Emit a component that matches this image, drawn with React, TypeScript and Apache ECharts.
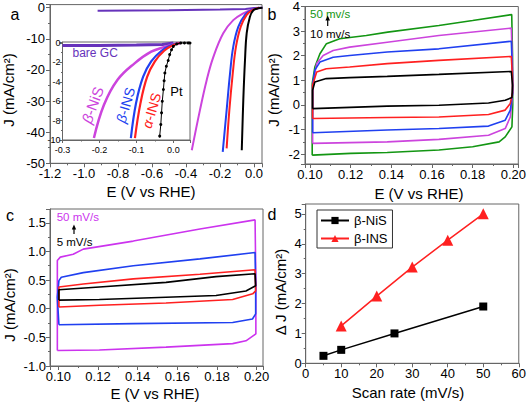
import { useEffect, useRef } from 'react';
import * as echarts from 'echarts';

const FONT = "'Liberation Sans', Arial, Helvetica, sans-serif";

// ---- Panel a (main LSV) : [E (V vs RHE), J (mA/cm2)]
const aBareGC: [number, number][] = [[-0.92, -1.0], [-0.5, -0.8], [-0.2, -0.6], [-0.05, -0.4], [0.0, -0.1], [0.05, 0.0]];
const aBetaNiS: [number, number][] = [[-0.366, -45.8], [-0.318, -32.9], [-0.278, -23.2], [-0.239, -15.8], [-0.181, -8.2], [-0.122, -4.0], [-0.063, -1.8], [-0.004, -0.5], [0.04, 0]];
const aBetaINS: [number, number][] = [[-0.184, -46.3], [-0.161, -32.9], [-0.141, -21.1], [-0.122, -12.5], [-0.092, -6.1], [-0.053, -2.3], [-0.014, -0.7], [0.03, 0]];
const aAlphaINS: [number, number][] = [[-0.161, -45.2], [-0.145, -32.9], [-0.125, -21.1], [-0.106, -12.5], [-0.078, -6.1], [-0.043, -2.3], [-0.008, -0.7], [0.03, 0]];
const aPt: [number, number][] = [[-0.072, -45.8], [-0.063, -29.7], [-0.053, -16.8], [-0.043, -8.2], [-0.024, -2.9], [-0.004, -0.8], [0.025, -0.2], [0.05, 0]];

// ---- Panel a inset
const iBareGC: [number, number][] = [[-0.3, -0.25], [-0.2, -0.25], [-0.1, -0.22], [-0.03, -0.15], [0.0, 0.0]];
const iBetaNiS: [number, number][] = [[-0.215, -9.8], [-0.188, -6.4], [-0.151, -3.8], [-0.105, -2.1], [-0.06, -0.9], [-0.023, -0.4], [0.004, -0.1], [0.02, 0]];
const iBetaINS: [number, number][] = [[-0.115, -9.8], [-0.101, -6.2], [-0.082, -3.5], [-0.06, -1.9], [-0.032, -0.8], [-0.005, -0.2], [0.02, 0]];
const iAlphaINS: [number, number][] = [[-0.104, -9.8], [-0.089, -6.2], [-0.071, -3.5], [-0.05, -1.9], [-0.025, -0.8], [0.0, -0.2], [0.02, 0]];
const iPt: [number, number][] = [[-0.037, -9.6], [-0.034, -8.4], [-0.032, -7.2], [-0.03, -6.0], [-0.027, -4.8], [-0.025, -3.9], [-0.023, -3.1], [-0.019, -2.4], [-0.014, -1.8], [-0.01, -1.2], [-0.005, -0.7], [0.0, -0.35], [0.009, -0.1], [0.02, 0], [0.03, 0], [0.04, 0], [0.045, 0]];

// ---- Panel b (CV loops, 10..50 mV/s)
const b50: [number, number][] = [[0.1011, -2.04], [0.1011, 0.87], [0.1024, 1.54], [0.1049, 2.08], [0.1081, 2.49], [0.1146, 2.69], [0.1277, 2.82], [0.1382, 2.96], [0.1634, 3.23], [0.18, 3.43], [0.1992, 3.67], [0.1996, 2.0], [0.1997, 0.0], [0.1993, -0.89], [0.196, -1.3], [0.193, -1.5], [0.18, -1.7], [0.1634, -1.83], [0.138, -1.93], [0.12, -1.97], [0.1011, -2.04]];
const b40: [number, number][] = [[0.1013, -1.56], [0.1013, 0.8], [0.1033, 1.68], [0.1065, 2.01], [0.1114, 2.21], [0.1195, 2.35], [0.138, 2.55], [0.1634, 2.82], [0.199, 3.12], [0.1996, 1.5], [0.1997, 0.5], [0.1985, -0.49], [0.196, -0.96], [0.1878, -1.23], [0.1634, -1.4], [0.138, -1.5], [0.1013, -1.56]];
const b30: [number, number][] = [[0.1013, -1.13], [0.1013, 0.8], [0.1024, 1.42], [0.1049, 1.74], [0.1114, 1.94], [0.1195, 2.01], [0.138, 2.15], [0.1634, 2.28], [0.199, 2.59], [0.1996, 1.2], [0.1997, 0.5], [0.1985, -0.21], [0.196, -0.62], [0.1878, -0.86], [0.1634, -0.96], [0.138, -1.02], [0.1013, -1.13]];
const b20: [number, number][] = [[0.1013, -0.55], [0.1013, 0.8], [0.1033, 1.34], [0.108, 1.47], [0.1195, 1.54], [0.138, 1.68], [0.1634, 1.81], [0.199, 1.97], [0.1996, 1.0], [0.1996, 0.5], [0.1985, 0.06], [0.196, -0.21], [0.1878, -0.39], [0.1634, -0.49], [0.138, -0.51], [0.1013, -0.55]];
const b10: [number, number][] = [[0.1013, -0.15], [0.1013, 0.6], [0.1024, 0.93], [0.108, 1.07], [0.1195, 1.11], [0.138, 1.16], [0.1634, 1.24], [0.199, 1.36], [0.1996, 0.8], [0.1993, 0.3], [0.196, 0.19], [0.1878, 0.08], [0.1634, -0.01], [0.138, -0.05], [0.1013, -0.15]];

// ---- Panel c (CV loops, 5..50 mV/s)
const c50: [number, number][] = [[0.0995, -0.73], [0.0995, 0.84], [0.101, 0.9], [0.1075, 0.95], [0.1126, 1.04], [0.1378, 1.18], [0.1714, 1.39], [0.1992, 1.55], [0.1996, 0.5], [0.1996, -0.44], [0.1946, -0.56], [0.1879, -0.61], [0.1543, -0.67], [0.1207, -0.72], [0.0995, -0.73]];
const c20: [number, number][] = [[0.1003, -0.28], [0.0995, 0.2], [0.1003, 0.49], [0.1015, 0.55], [0.1126, 0.63], [0.1378, 0.75], [0.1714, 0.87], [0.1992, 0.98], [0.1995, 0.4], [0.1995, -0.09], [0.1979, -0.18], [0.1879, -0.24], [0.1378, -0.26], [0.1003, -0.28]];
const c10: [number, number][] = [[0.1003, 0.03], [0.1003, 0.38], [0.1126, 0.43], [0.1378, 0.52], [0.1714, 0.6], [0.1992, 0.68], [0.1995, 0.31], [0.198, 0.26], [0.1879, 0.16], [0.1543, 0.1], [0.1207, 0.06], [0.1003, 0.03]];
const c5: [number, number][] = [[0.1003, 0.15], [0.1003, 0.33], [0.1207, 0.38], [0.1543, 0.46], [0.1795, 0.56], [0.1992, 0.61], [0.1995, 0.4], [0.1946, 0.31], [0.1795, 0.23], [0.1543, 0.2], [0.1207, 0.16], [0.1003, 0.15]];

// ---- Panel d (delta J vs scan rate)
const dScanNiS = [5, 10, 25, 50];
const dJNiS = [0.25, 0.45, 1.0, 1.9];
const dScanINS = [10, 20, 30, 40, 50];
const dJINS = [1.25, 2.25, 3.22, 4.12, 5.0];

const MAGENTA = '#cc44dd';
const BLUE = '#2040f0';
const RED = '#ff2020';
const PURPLE = '#6633bb';
const GREEN = '#139613';
const AXIS = '#666';

const fmt = (step: number, dec: number) => (v: number) => {
  const r = v / step;
  if (Math.abs(r - Math.round(r)) > 1e-6) return '';
  const val = Math.abs(v) < 1e-9 ? 0 : v;
  return val.toFixed(dec);
};

function axis(idx: number, min: number, max: number, opts: any, labelFmt: any, fontSize = 13, margin = 4, tickLen = 4) {
  return {
    type: 'value',
    gridIndex: idx,
    min,
    max,
    ...opts,
    axisLine: { show: true, onZero: false, lineStyle: { color: AXIS, width: 1 } },
    axisTick: { show: true, length: tickLen, lineStyle: { color: AXIS } },
    minorTick: { show: true, splitNumber: 2, length: tickLen / 2, lineStyle: { color: AXIS } },
    splitLine: { show: false },
    minorSplitLine: { show: false },
    axisLabel: { color: '#000', fontSize, fontFamily: FONT, margin, formatter: labelFmt },
  };
}

function line(name: string, data: any, gi: number, color: string, width: number, extra: any = {}) {
  return {
    type: 'line',
    name,
    data,
    xAxisIndex: gi,
    yAxisIndex: gi,
    showSymbol: false,
    symbol: 'none',
    lineStyle: { color, width },
    itemStyle: { color },
    silent: true,
    ...extra,
  };
}

function txt(text: string, x: number, y: number, size: number, color = '#000', rotation = 0, extra: any = {}) {
  return {
    type: 'text',
    x,
    y,
    rotation,
    z: 100,
    style: {
      text,
      fill: color,
      fontSize: size,
      fontFamily: FONT,
      textAlign: 'center',
      textVerticalAlign: 'middle',
      align: 'center',
      verticalAlign: 'middle',
      ...extra,
    },
  };
}

function italicGreek(greek: string, rest: string, x: number, y: number, size: number, color: string, rotation: number) {
  return {
    type: 'text',
    x,
    y,
    rotation,
    z: 100,
    style: {
      text: `{g|${greek}}{r|${rest}}`,
      fill: color,
      fontSize: size,
      fontFamily: FONT,
      textAlign: 'center',
      textVerticalAlign: 'middle',
      align: 'center',
      verticalAlign: 'middle',
      rich: {
        g: { fontStyle: 'italic', fill: color, fontSize: size, fontFamily: FONT },
        r: { fill: color, fontSize: size, fontFamily: FONT },
      },
    },
  };
}

export default function App() {
  const ref = useRef<HTMLDivElement>(null);
  useEffect(() => {
    document.body.style.margin = '0';
    const chart = echarts.init(ref.current!, null, { renderer: 'svg' });
    const grids = [
      { left: 50, top: 4.6, width: 212, height: 158.7 },
      { left: 62.5, top: 42, width: 127.5, height: 98, backgroundColor: '#fff' },
      { left: 305, top: 6, width: 215, height: 158 },
      { left: 50, top: 209, width: 213, height: 157 },
      { left: 305.7, top: 204, width: 214.3, height: 159.3 },
    ].map((g) => ({ show: true, borderColor: AXIS, borderWidth: 1, backgroundColor: 'transparent', containLabel: false, ...g }));

    const option: any = {
      animation: false,
      textStyle: { fontFamily: FONT },
      grid: grids,
      xAxis: [
        axis(0, -1.2, 0.047, { interval: 0.2 }, fmt(0.2, 1)),
        axis(1, -0.3, 0.045, { interval: 0.1 }, fmt(0.1, 1), 9, 5, 3),
        axis(2, 0.09756, 0.20244, { minInterval: 0.02, maxInterval: 0.02 }, fmt(0.02, 2)),
        axis(3, 0.0958, 0.2032, { minInterval: 0.02, maxInterval: 0.02 }, fmt(0.02, 2)),
        axis(4, 0, 60, { interval: 10 }, fmt(10, 0)),
      ],
      yAxis: [
        axis(0, -50, 1, { interval: 10 }, fmt(10, 0), 13, 5),
        axis(1, -10, 0.1, { interval: 2 }, fmt(2, 0), 9, 2, 3),
        axis(2, -2.4, 4, { minInterval: 1, maxInterval: 1 }, fmt(1, 0), 13, 5),
        axis(3, -1, 1.74, { interval: 0.5 }, fmt(0.5, 1), 13, 4),
        axis(4, 0, 5.33, { interval: 1 }, fmt(1, 0), 13, 4),
      ],
      legend: {
        data: ['β-NiS', 'β-INS'],
        orient: 'vertical',
        left: 317,
        top: 210,
        borderColor: '#333',
        borderWidth: 1,
        padding: [4, 5, 3, 3],
        itemGap: 5,
        itemWidth: 28,
        itemHeight: 9,
        textStyle: { fontSize: 13, fontFamily: FONT, color: '#000' },
      },
      series: [
        // panel a
        line('a-bare', aBareGC, 0, PURPLE, 2),
        line('a-bNiS', aBetaNiS, 0, MAGENTA, 2, { smooth: 0.4 }),
        line('a-bINS', aBetaINS, 0, BLUE, 2, { smooth: 0.4 }),
        line('a-aINS', aAlphaINS, 0, RED, 2, { smooth: 0.4 }),
        line('a-Pt', aPt, 0, '#000', 2, { smooth: 0.4 }),
        // inset
        line('i-bare', iBareGC, 1, PURPLE, 3),
        line('i-bNiS', iBetaNiS, 1, MAGENTA, 2.5, { smooth: 0.4 }),
        line('i-bINS', iBetaINS, 1, BLUE, 2.2, { smooth: 0.4 }),
        line('i-aINS', iAlphaINS, 1, RED, 2.2, { smooth: 0.4 }),
        line('i-Pt', iPt, 1, '#000', 1, { showSymbol: true, symbol: 'circle', symbolSize: 3 }),
        // panel b
        line('b50', b50, 2, GREEN, 1.6),
        line('b40', b40, 2, MAGENTA, 1.6),
        line('b30', b30, 2, BLUE, 1.6),
        line('b20', b20, 2, RED, 1.6),
        line('b10', b10, 2, '#000', 1.6),
        // panel c
        line('c50', c50, 3, '#cc33ee', 1.6),
        line('c20', c20, 3, BLUE, 1.6),
        line('c10', c10, 3, RED, 1.6),
        line('c5', c5, 3, '#000', 1.6),
        // panel d
        {
          type: 'line',
          name: 'β-NiS',
          xAxisIndex: 4,
          yAxisIndex: 4,
          data: dScanNiS.map((s, i) => [s, dJNiS[i]]),
          symbol: 'rect',
          symbolSize: 8,
          lineStyle: { color: '#000', width: 1.5 },
          itemStyle: { color: '#000' },
        },
        {
          type: 'line',
          name: 'β-INS',
          xAxisIndex: 4,
          yAxisIndex: 4,
          data: dScanINS.map((s, i) => [s, dJINS[i]]),
          symbol: 'triangle',
          symbolSize: 11,
          lineStyle: { color: RED, width: 1.5 },
          itemStyle: { color: RED },
        },
      ],
      graphic: [
        txt('a', 15, 14, 16),
        txt('b', 272, 14, 16),
        txt('c', 10, 215, 16),
        txt('d', 272, 214, 16),
        // axis titles
        txt('E (V vs RHE)', 151, 191, 15),
        txt('J (mA/cm²)', 8.5, 90, 15, '#000', Math.PI / 2),
        txt('E (V vs RHE)', 419, 193, 15),
        txt('J (mA/cm²)', 273.5, 90, 15, '#000', Math.PI / 2),
        txt('E (V vs RHE)', 155, 393, 15),
        txt('J (mA/cm²)', 9.5, 305, 15, '#000', Math.PI / 2),
        txt('Scan rate (mV/s)', 408, 392, 15),
        txt('Δ J (mA/cm²)', 280, 292, 15, '#000', Math.PI / 2),
        // inset annotations
        txt('bare GC', 72.5, 52.5, 12, PURPLE, 0, { textAlign: 'left', align: 'left' }),
        italicGreek('β', '-NiS', 92.5, 105, 15, MAGENTA, 1.22),
        italicGreek('β', '-INS', 125.5, 105, 14, BLUE, 1.29),
        italicGreek('α', '-INS', 151.5, 110.5, 14, RED, 1.29),
        txt('Pt', 176.5, 91, 13),
        // panel b annotations
        txt('50 mv/s', 310, 14, 11.5, GREEN, 0, { textAlign: 'left', align: 'left' }),
        txt('10 mv/s', 310, 34, 11.5, '#000', 0, { textAlign: 'left', align: 'left' }),
        { type: 'line', z: 100, shape: { x1: 327.7, y1: 26, x2: 327.7, y2: 19 }, style: { stroke: '#000', lineWidth: 1.2 } },
        { type: 'polygon', z: 100, shape: { points: [[325.4, 20.5], [330, 20.5], [327.7, 15.5]] }, style: { fill: '#000' } },
        // panel c annotations
        txt('50 mV/s', 56.7, 217, 11.5, '#cc33ee', 0, { textAlign: 'left', align: 'left' }),
        txt('5 mV/s', 56.7, 241.5, 11.5, '#000', 0, { textAlign: 'left', align: 'left' }),
        { type: 'line', z: 100, shape: { x1: 74, y1: 234, x2: 74, y2: 228 }, style: { stroke: '#000', lineWidth: 1.2 } },
        { type: 'polygon', z: 100, shape: { points: [[71.8, 229.5], [76.2, 229.5], [74, 224.5]] }, style: { fill: '#000' } },
      ],
    };
    chart.setOption(option);
    return () => chart.dispose();
  }, []);
  return <div ref={ref} style={{ width: 529, height: 403 }} />;
}
